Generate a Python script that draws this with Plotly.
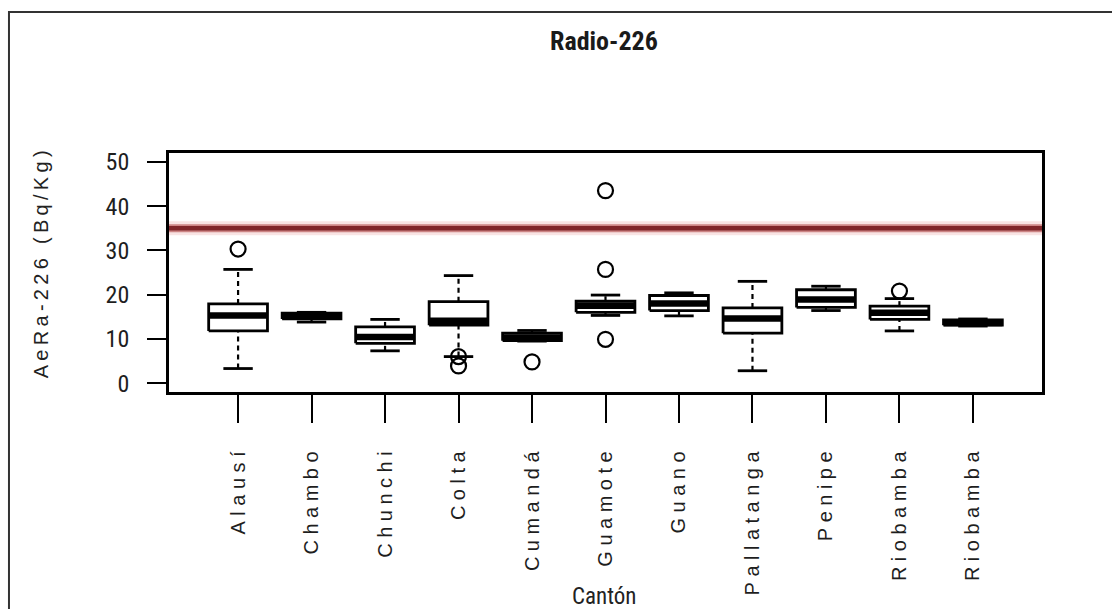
import plotly.graph_objects as go

# Canton names along the x axis
cantones = ["Alausí", "Chambo", "Chunchi", "Colta", "Cumandá", "Guamote",
            "Guano", "Pallatanga", "Penipe", "Riobamba", "Riobamba"]

# Box-plot statistics of Ra-226 activity (Bq/Kg) per canton
lower_whisker = [3.3, 13.8, 7.3, 6.0, 9.5, 15.3, 15.2, 2.8, 16.4, 11.8, 12.9]
q1 = [11.8, 14.5, 9.0, 13.1, 9.6, 16.0, 16.4, 11.3, 17.1, 14.4, 13.1]
median = [15.3, 15.1, 10.4, 14.1, 10.3, 17.5, 18.0, 14.6, 18.9, 15.9, 13.6]
q3 = [17.9, 15.8, 12.7, 18.4, 11.3, 18.5, 19.8, 17.0, 21.1, 17.4, 14.3]
upper_whisker = [25.7, 16.0, 14.4, 24.3, 11.9, 19.9, 20.4, 23.0, 21.9, 19.1, 14.5]

# Outlying samples: (canton index, value)
outlier_idx = [1, 4, 4, 5, 6, 6, 6, 10]
outlier_val = [30.3, 6.0, 3.9, 4.8, 43.5, 25.7, 9.9, 20.8]

# Reference limit for Ra-226
limite = 35

y_ticks = [0, 10, 20, 30, 40, 50]

BOX_HALF = 0.4
CAP_HALF = 0.2

narrow = "Liberation Sans Narrow, Roboto Condensed, Arial Narrow, Liberation Sans, Arial, sans-serif"
plain = "Liberation Sans, Arial, sans-serif"

pos = list(range(1, len(cantones) + 1))

box_x, box_y = [], []
med_x, med_y = [], []
wh_x, wh_y = [], []
cap_x, cap_y = [], []
for p, lw, a, m, b, uw in zip(pos, lower_whisker, q1, median, q3, upper_whisker):
    box_x += [p - BOX_HALF, p + BOX_HALF, p + BOX_HALF, p - BOX_HALF, p - BOX_HALF, None]
    box_y += [a, a, b, b, a, None]
    med_x += [p - BOX_HALF, p + BOX_HALF, None]
    med_y += [m, m, None]
    wh_x += [p, p, None, p, p, None]
    wh_y += [lw, a, None, b, uw, None]
    cap_x += [p - CAP_HALF, p + CAP_HALF, None, p - CAP_HALF, p + CAP_HALF, None]
    cap_y += [lw, lw, None, uw, uw, None]

fig = go.Figure()

fig.add_trace(go.Scatter(x=wh_x, y=wh_y, mode="lines",
                         line=dict(color="black", width=2.2, dash="5px,4px"),
                         hoverinfo="skip", showlegend=False))
fig.add_trace(go.Scatter(x=cap_x, y=cap_y, mode="lines",
                         line=dict(color="black", width=2.8),
                         hoverinfo="skip", showlegend=False))
fig.add_trace(go.Scatter(x=box_x, y=box_y, mode="lines", fill="toself",
                         fillcolor="white",
                         line=dict(color="black", width=2.8),
                         hoverinfo="skip", showlegend=False))
fig.add_trace(go.Scatter(x=med_x, y=med_y, mode="lines",
                         line=dict(color="black", width=6.5),
                         hoverinfo="skip", showlegend=False))
fig.add_trace(go.Scatter(x=outlier_idx, y=outlier_val, mode="markers",
                         marker=dict(symbol="circle-open", size=15,
                                     color="black", line=dict(width=2.2)),
                         hoverinfo="skip", showlegend=False))

# Limit line with a soft red halo
for w, c in [(14, "rgba(225,120,120,0.2)"), (8, "rgba(170,55,55,0.55)"), (4.5, "#80262a")]:
    fig.add_shape(type="line", xref="paper", x0=0, x1=1, yref="y",
                  y0=limite, y1=limite, line=dict(color=c, width=w), layer="above")

# Outer frame of the figure
fig.add_shape(type="rect", xref="paper", yref="paper",
              x0=-0.1833, x1=1.3, y0=-1.2, y1=1.59,
              line=dict(color="#333333", width=2))

fig.add_annotation(text="Radio-226", xref="paper", yref="paper",
                   x=0.498, y=1.469, xanchor="center", yanchor="middle",
                   showarrow=False,
                   font=dict(family=narrow, size=26, color="#1a1a1a", weight="bold"))
fig.add_annotation(text="AeRa-226 (Bq/Kg)", xref="paper", yref="paper",
                   x=-0.1466, y=0.54, xanchor="center", yanchor="middle",
                   textangle=-90, showarrow=False,
                   font=dict(family=plain, size=20, color="#222222"))
fig.add_annotation(text="Cantón", xref="paper", yref="paper",
                   x=0.498, y=-0.855, xanchor="center", yanchor="middle",
                   showarrow=False,
                   font=dict(family=narrow, size=23, color="#222222"))

fig.update_layout(
    width=1112, height=609,
    margin=dict(l=169, r=70, t=153, b=217),
    paper_bgcolor="white", plot_bgcolor="white",
    showlegend=False,
    xaxis=dict(range=[0.06, 11.94], tickmode="array", tickvals=pos,
               ticktext=cantones, tickangle=-90, ticks="outside",
               ticklen=28, tickwidth=2.2, tickcolor="black",
               ticklabelstandoff=15,
               showgrid=False, zeroline=False, showline=True, mirror=True,
               linecolor="black", linewidth=2.8,
               tickfont=dict(family=plain, size=20, color="#1e1e1e")),
    yaxis=dict(range=[-2, 52], tickmode="array", tickvals=y_ticks,
               ticks="outside", ticklen=19, tickwidth=2.2, tickcolor="black",
               ticklabelstandoff=13,
               showgrid=False, zeroline=False, showline=True, mirror=True,
               linecolor="black", linewidth=2.8,
               tickfont=dict(family=narrow, size=24, color="#1e1e1e")),
)

spacing_js = """
document.querySelectorAll('.xtick text').forEach(function(t){ t.style.letterSpacing = '5.5px'; });
document.querySelectorAll('.annotation-text').forEach(function(t){
  if (t.textContent.indexOf('AeRa') === 0) { t.style.letterSpacing = '4.3px'; }
});
"""

fig.write_html("out.html", post_script=spacing_js)
